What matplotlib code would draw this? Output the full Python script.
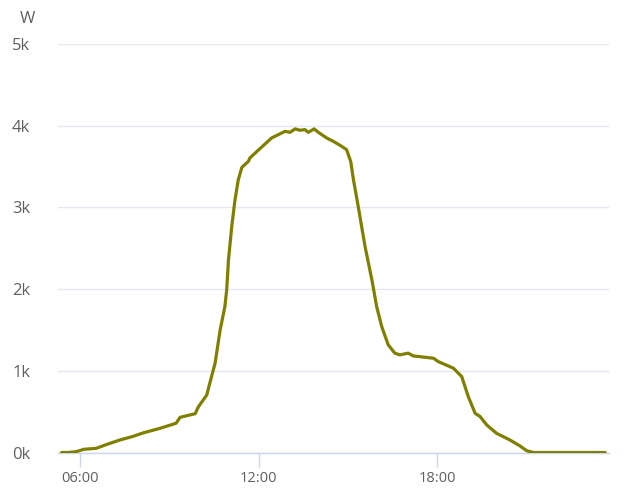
import matplotlib
matplotlib.use("Agg")
import matplotlib.pyplot as plt
from matplotlib.ticker import FixedLocator

# Time of day (hours) and power (W)
hours = [5.38, 5.60, 5.87, 6.13, 6.54, 6.94, 7.34, 7.75, 8.15, 8.69, 9.23, 9.36,
         9.87, 9.98, 10.26, 10.42, 10.54, 10.71, 10.87, 10.93, 10.99, 11.10, 11.21,
         11.32, 11.44, 11.66, 11.71, 12.05, 12.44, 12.89, 13.06, 13.23, 13.39, 13.56,
         13.67, 13.87, 14.01, 14.29, 14.51, 14.74, 14.96, 15.10, 15.19, 15.36, 15.58,
         15.81, 15.97, 16.14, 16.36, 16.58, 16.75, 17.03, 17.20, 17.88, 18.04, 18.55,
         18.83, 19.05, 19.28, 19.45, 19.67, 20.00, 20.45, 20.79, 21.01, 21.24, 23.65]
watts = [0, 0, 10, 39, 51, 104, 153, 194, 243, 296, 358, 430,
         475, 560, 704, 929, 1093, 1501, 1787, 1991, 2359, 2767, 3094,
         3339, 3490, 3564, 3605, 3720, 3850, 3931, 3919, 3961, 3944, 3952,
         3919, 3961, 3919, 3850, 3809, 3760, 3707, 3560, 3340, 2993, 2522,
         2114, 1787, 1542, 1317, 1216, 1195, 1216, 1182, 1154, 1113, 1032,
         929, 684, 480, 439, 337, 235, 153, 80, 22, 0, 0]

x_ticks = [6, 12, 18]
x_tick_labels = ["06:00", "12:00", "18:00"]
y_ticks = [0, 1000, 2000, 3000, 4000, 5000]
y_tick_labels = ["0k", "1k", "2k", "3k", "4k", "5k"]
unit_label = "W"

plt.rcParams['font.family'] = ['Open Sans', 'DejaVu Sans']

fig = plt.figure(figsize=(6.28, 4.98), dpi=100)
ax = fig.add_axes([58/628, (498-452.5)/498, (609-58)/628, (452.5-44)/498])

ax.plot(hours, watts, color="#808000", lw=2.3, solid_joinstyle="round",
        solid_capstyle="round", zorder=3)

ax.set_xlim(5.26, 23.78)
ax.set_ylim(0, 5000)

ax.yaxis.set_major_locator(FixedLocator(y_ticks))
ax.set_yticklabels(y_tick_labels)
ax.xaxis.set_major_locator(FixedLocator(x_ticks))
ax.set_xticklabels(x_tick_labels)

ax.grid(axis="y", color="#e1e8ef", lw=1.0, zorder=0)
for s in ["top", "right", "left"]:
    ax.spines[s].set_visible(False)
ax.spines["bottom"].set_color("#ccd6eb")
ax.spines["bottom"].set_linewidth(1.0)

ax.tick_params(axis="y", length=0, pad=20, labelsize=12, labelcolor="#606060")
ax.tick_params(axis="x", length=10, width=1, color="#ccd6eb", pad=3,
               labelsize=10.5, labelcolor="#606060")

fig.text(27/628, 1 - 19/498, unit_label, ha="center", va="center",
         fontsize=12, color="#606060")

fig.savefig("out.png", dpi=100)
